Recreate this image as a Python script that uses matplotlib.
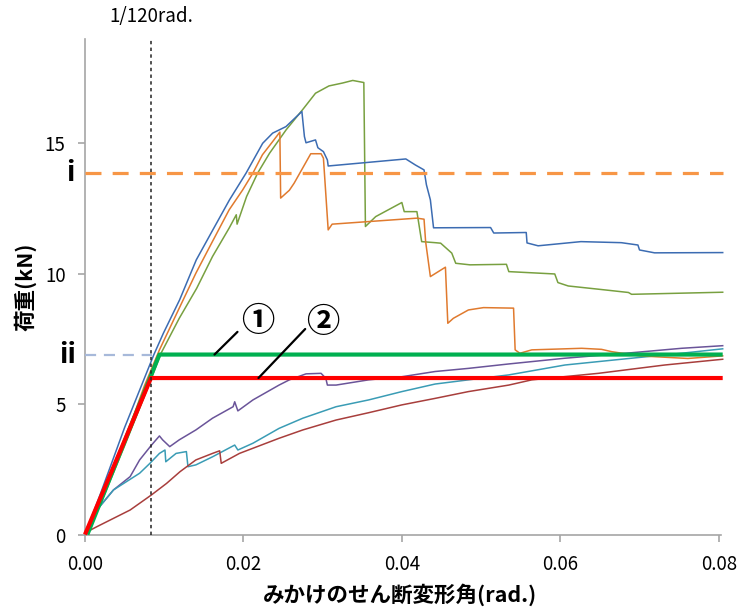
import matplotlib
matplotlib.use("Agg")
import matplotlib.pyplot as plt
import matplotlib.transforms as mtransforms

plt.rcParams['font.family'] = ['Noto Sans CJK JP', 'DejaVu Sans']

# ---- measured load / shear-angle curves (rad., kN) ----
blue_x = [0, 0.002, 0.005, 0.0087, 0.0099, 0.01195, 0.01405, 0.01614, 0.01824, 0.02034,
          0.02243, 0.02369, 0.02537, 0.02738, 0.0277, 0.0279, 0.0291, 0.0294, 0.0301, 0.0306,
          0.0307, 0.0405, 0.0417, 0.0428, 0.0431, 0.0436, 0.0440, 0.0512, 0.0516, 0.0557,
          0.0558, 0.0572, 0.0626, 0.0677, 0.0698, 0.0700, 0.0719, 0.0805]
blue_y = [0, 1.6, 4.1, 6.9, 7.72, 9.0, 10.53, 11.68, 12.83, 13.86,
          15.0, 15.39, 15.64, 16.22, 15.26, 15.02, 15.13, 14.83, 14.68, 14.36,
          14.13, 14.4, 14.17, 13.98, 13.41, 12.83, 11.76, 11.77, 11.56, 11.58,
          11.18, 11.07, 11.23, 11.19, 11.1, 10.91, 10.8, 10.81]

orange_x = [0, 0.002, 0.005, 0.0075, 0.0094, 0.0119, 0.0140, 0.0161, 0.0182, 0.0199,
            0.0212, 0.0224, 0.0237, 0.0246, 0.0247, 0.0258, 0.0264, 0.0285, 0.0298, 0.0301,
            0.0307, 0.0312, 0.0419, 0.0428, 0.0430, 0.0436, 0.0455, 0.0458, 0.0465, 0.0484,
            0.0503, 0.0541, 0.0543, 0.0549, 0.0564, 0.0627, 0.0652, 0.0665, 0.0700, 0.0761,
            0.0805]
orange_y = [0, 1.3, 3.6, 5.7, 7.08, 8.68, 10.02, 11.24, 12.45, 13.21,
            13.86, 14.56, 15.07, 15.43, 12.9, 13.2, 13.47, 14.6, 14.6, 14.43,
            11.68, 11.9, 12.13, 12.09, 11.23, 9.89, 10.25, 8.1, 8.29, 8.61,
            8.7, 8.68, 7.08, 6.95, 7.08, 7.14, 7.1, 7.01, 6.85, 6.75,
            6.85]

green_x = [0, 0.002, 0.005, 0.0075, 0.0096, 0.0119, 0.0141, 0.0161, 0.0182, 0.0191,
           0.0192, 0.0204, 0.0218, 0.0233, 0.0254, 0.0275, 0.0291, 0.0308, 0.0325, 0.0338,
           0.0352, 0.0354, 0.0367, 0.0400, 0.0403, 0.0419, 0.0425, 0.0442, 0.0449, 0.0463,
           0.0468, 0.0486, 0.0532, 0.0535, 0.0593, 0.0597, 0.0610, 0.0656, 0.0686, 0.0690,
           0.0805]
green_y = [0, 1.2, 3.4, 5.3, 6.95, 8.29, 9.44, 10.66, 11.75, 12.26,
           11.9, 12.96, 13.86, 14.62, 15.52, 16.3, 16.92, 17.2, 17.31, 17.41,
           17.33, 11.81, 12.19, 12.73, 12.38, 12.38, 11.23, 11.19, 11.17, 10.79,
           10.4, 10.34, 10.36, 10.08, 9.99, 9.66, 9.53, 9.38, 9.28, 9.21,
           9.29]

purple_x = [0, 0.0015, 0.0036, 0.0057, 0.0069, 0.0084, 0.0094, 0.0098, 0.0107, 0.0119,
            0.0140, 0.0161, 0.0187, 0.0189, 0.0193, 0.0212, 0.0245, 0.0258, 0.0279, 0.0298,
            0.0304, 0.0306, 0.0317, 0.0358, 0.0400, 0.0442, 0.0484, 0.0535, 0.0606, 0.0690,
            0.0753, 0.0805]
purple_y = [0, 0.94, 1.71, 2.22, 2.86, 3.43, 3.78, 3.63, 3.37, 3.63,
            4.01, 4.46, 4.9, 5.09, 4.74, 5.16, 5.73, 5.93, 6.16, 6.18,
            5.99, 5.73, 5.73, 5.93, 6.05, 6.25, 6.37, 6.54, 6.76, 6.97,
            7.14, 7.24]

teal_x = [0, 0.0015, 0.0036, 0.0069, 0.0082, 0.0094, 0.0101, 0.0102, 0.0115, 0.0128,
          0.0130, 0.0140, 0.0161, 0.0189, 0.0193, 0.0212, 0.0245, 0.0275, 0.0317, 0.0358,
          0.0400, 0.0442, 0.0484, 0.0535, 0.0606, 0.0690, 0.0753, 0.0805]
teal_y = [0, 0.94, 1.71, 2.35, 2.73, 3.11, 3.24, 2.79, 3.11, 3.18,
          2.6, 2.67, 2.98, 3.43, 3.24, 3.5, 4.07, 4.46, 4.9, 5.16,
          5.48, 5.77, 5.93, 6.12, 6.5, 6.76, 6.95, 7.12]

maroon_x = [0, 0.0015, 0.0036, 0.0057, 0.0084, 0.0103, 0.0120, 0.0140, 0.0161, 0.0170,
            0.0172, 0.0195, 0.0245, 0.0275, 0.0317, 0.0358, 0.0400, 0.0442, 0.0484, 0.0535,
            0.0564, 0.0648, 0.0732, 0.0805]
maroon_y = [0.06, 0.3, 0.62, 0.94, 1.52, 1.96, 2.41, 2.86, 3.11, 3.21,
            2.73, 3.11, 3.69, 4.01, 4.39, 4.67, 4.97, 5.22, 5.48, 5.73,
            5.93, 6.18, 6.5, 6.72]

# ---- bilinear models ----
model1_x = [0.0003, 0.0094, 0.0805]
model1_y = [0, 6.9, 6.9]
model2_x = [0, 1 / 120, 0.0805]
model2_y = [0, 6.0, 6.0]

level_i = 13.86
level_ii = 6.9
drift_ref = 1 / 120

x_ticks = [0.00, 0.02, 0.04, 0.06, 0.08]
y_ticks = [0, 5, 10, 15]

fig = plt.figure(figsize=(7.5, 6.09), dpi=100)
ax = fig.add_axes([0.1133, 0.1223, 0.8503, 0.8137])
ax.set_xlim(0, 0.0805)
ax.set_ylim(0, 19)

thin = 1.1
series = [
    (purple_x, purple_y, '#6a5499'),
    (teal_x, teal_y, '#3a9cb5'),
    (maroon_x, maroon_y, '#a83e3c'),
    (green_x, green_y, '#78a040'),
    (orange_x, orange_y, '#e07a2e'),
    (blue_x, blue_y, '#3c6cb2'),
]
for xs, ys, c in series:
    ax.plot(xs, ys, color=c, lw=thin, zorder=2, clip_on=False)

# reference levels
ax.plot([0, 0.0805], [level_i, level_i], color='#f79646', lw=2.3,
        dashes=(5, 3.5), zorder=3, clip_on=False)
ax.plot([0, model1_x[1] - 0.0009], [level_ii, level_ii], color='#a7b9da', lw=1.6,
        dashes=(5, 3.5), zorder=3)

ax.plot(model1_x, model1_y, color='#00b050', lw=3.0, zorder=4, clip_on=False,
        solid_capstyle='butt')
ax.plot(model2_x, model2_y, color='#ff0000', lw=3.0, zorder=4, clip_on=False,
        solid_capstyle='butt')

ax.plot([drift_ref, drift_ref], [0, 19], color='#222222', lw=1.1,
        dashes=(2.2, 2.2), zorder=5, clip_on=False)

# spines and ticks
for s in ['top', 'right']:
    ax.spines[s].set_visible(False)
for s in ['left', 'bottom']:
    ax.spines[s].set_color('#a6a6a6')
    ax.spines[s].set_linewidth(1.2)
ax.spines['bottom'].set_bounds(0, 0.0803)
ax.set_xticks(x_ticks)
ax.set_xticklabels([f"{v:.2f}" for v in x_ticks])
ax.set_yticks(y_ticks)
ax.set_yticklabels([str(v) for v in y_ticks])
ax.tick_params(axis='both', colors='#a6a6a6', labelcolor='black', length=5,
               width=1.2, labelsize=13.5)
ax.tick_params(axis='x', pad=9)
ax.tick_params(axis='y', pad=9)

# axis titles
ax.text(0.494, -0.122, 'みかけのせん断変形角(rad.)', transform=ax.transAxes,
        ha='center', va='center', fontsize=15.5, fontweight='bold')
ax.text(-0.094, 0.5, '荷重(kN)', transform=ax.transAxes, rotation=90,
        ha='center', va='center', fontsize=15.5, fontweight='bold')

# level markers
trans_y = mtransforms.blended_transform_factory(ax.transAxes, ax.transData)
ax.text(-0.023, level_i, 'i', transform=trans_y, ha='center', va='center',
        fontsize=20, fontweight='bold')
ax.text(-0.027, level_ii, 'ii', transform=trans_y, ha='center', va='center',
        fontsize=20, fontweight='bold')

trans_x = mtransforms.blended_transform_factory(ax.transData, ax.transAxes)
ax.text(drift_ref, 1.045, '1/120rad.', transform=trans_x, ha='center',
        va='center', fontsize=13.5)

# model labels with leader lines
ax.annotate('', xy=(0.01635, level_ii), xytext=(0.01925, 7.77),
            arrowprops=dict(arrowstyle='-', color='black', lw=1.6,
                            shrinkA=0, shrinkB=0), zorder=6)
ax.annotate('', xy=(0.0219, model2_y[-1]), xytext=(0.0278, 7.88),
            arrowprops=dict(arrowstyle='-', color='black', lw=1.6,
                            shrinkA=0, shrinkB=0), zorder=6)
ax.text(0.0218, 8.15, '①', fontsize=24, fontweight='bold', ha='center',
        va='center', zorder=6)
ax.text(0.0300, 8.12, '②', fontsize=24, fontweight='bold', ha='center',
        va='center', zorder=6)

fig.savefig('out.png', dpi=100)
